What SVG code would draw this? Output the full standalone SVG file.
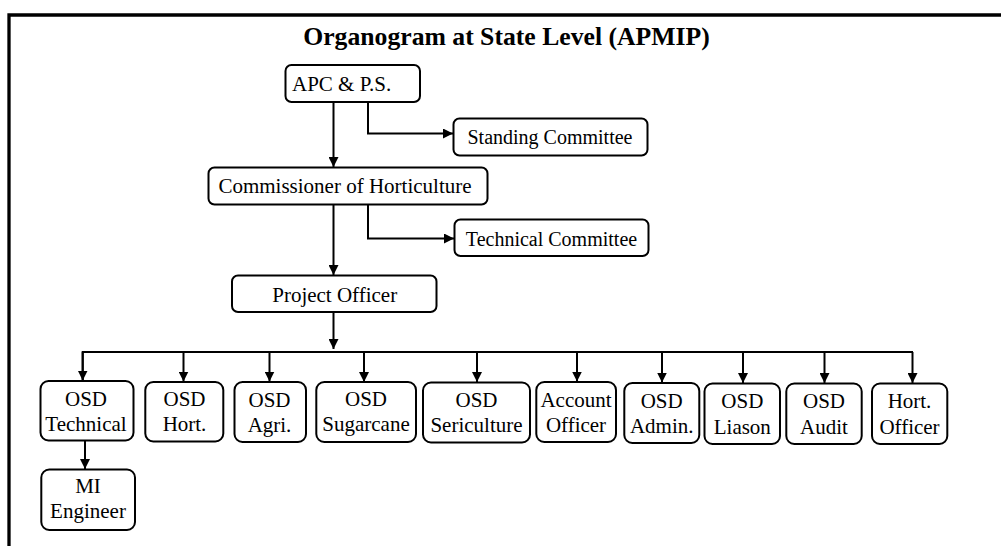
<svg xmlns="http://www.w3.org/2000/svg" width="1001" height="546" viewBox="0 0 1001 546">
<defs>
<style>
.box{fill:#fff;stroke:#000;stroke-width:2}
.t{font-family:'Liberation Serif','Times New Roman',Times,'DejaVu Serif',serif;font-size:21px;fill:#000;text-anchor:middle}
.c{font-size:20px}
.ln{fill:none;stroke:#000;stroke-width:2}
.title{font-family:'Liberation Serif','Times New Roman',Times,'DejaVu Serif',serif;font-size:25.7px;font-weight:bold;fill:#000;text-anchor:middle}
</style>
<marker id="ah" markerUnits="userSpaceOnUse" markerWidth="10" markerHeight="10" refX="10" refY="5" orient="auto">
<path d="M0,0 L10,5 L0,10 z" fill="#000"/>
</marker>
</defs>
<rect width="1001" height="546" fill="#fff"/>
<path d="M9,546 V15 H1001" fill="none" stroke="#000" stroke-width="3.3"/>
<text class="title" x="506.5" y="45">Organogram at State Level (APMIP)</text>

<g id="connectors">
<path class="ln" d="M333.5,102 V167" marker-end="url(#ah)"/>
<path class="ln" d="M368,102 V133.5 H453" marker-end="url(#ah)"/>
<path class="ln" d="M333.5,204.5 V275" marker-end="url(#ah)"/>
<path class="ln" d="M368,204.5 V238.5 H454" marker-end="url(#ah)"/>
<path class="ln" d="M333.5,312 V349" marker-end="url(#ah)"/>
<path class="ln" d="M82.7,380 V352 H913"/>
<path class="ln" d="M82.7,352 V380.5" marker-end="url(#ah)"/>
<path class="ln" d="M183.5,352 V381.5" marker-end="url(#ah)"/>
<path class="ln" d="M269.5,352 V381.5" marker-end="url(#ah)"/>
<path class="ln" d="M364,352 V382" marker-end="url(#ah)"/>
<path class="ln" d="M477,352 V382" marker-end="url(#ah)"/>
<path class="ln" d="M577,352 V381.5" marker-end="url(#ah)"/>
<path class="ln" d="M662,352 V382.5" marker-end="url(#ah)"/>
<path class="ln" d="M743,352 V383" marker-end="url(#ah)"/>
<path class="ln" d="M824.5,352 V383" marker-end="url(#ah)"/>
<path class="ln" d="M912.5,352 V383" marker-end="url(#ah)"/>
<path class="ln" d="M85,441 V469" marker-end="url(#ah)"/>
</g>

<g id="apc"><rect class="box" x="285.5" y="65" width="134.5" height="37" rx="6"/><text class="t" x="292" y="90.7" style="text-anchor:start">APC &amp; P.S.</text></g>
<g id="standing"><rect class="box" x="453.5" y="118.5" width="194" height="37" rx="6"/><text class="t c" x="550" y="144.3">Standing Committee</text></g>
<g id="commissioner"><rect class="box" x="208.5" y="167.5" width="279" height="37" rx="6"/><text class="t" x="345" y="193.3">Commissioner of Horticulture</text></g>
<g id="technical"><rect class="box" x="454.5" y="219.5" width="194" height="36.5" rx="6"/><text class="t c" x="551.5" y="246">Technical Committee</text></g>
<g id="project"><rect class="box" x="232" y="275.5" width="204.5" height="36.5" rx="6"/><text class="t" x="334.7" y="301.7">Project Officer</text></g>

<g id="osd-technical"><rect class="box" x="40.5" y="381" width="93" height="59.5" rx="8"/><text class="t" x="86" y="405.5">OSD</text><text class="t" x="86" y="430.5">Technical</text></g>
<g id="osd-hort"><rect class="box" x="145.3" y="382" width="78" height="59.5" rx="8"/><text class="t" x="184.5" y="406">OSD</text><text class="t" x="184.5" y="431">Hort.</text></g>
<g id="osd-agri"><rect class="box" x="234.5" y="382" width="71.5" height="60" rx="8"/><text class="t" x="269.5" y="406.5">OSD</text><text class="t" x="269.5" y="431.5">Agri.</text></g>
<g id="osd-sugarcane"><rect class="box" x="316.3" y="382" width="99.7" height="60" rx="8"/><text class="t" x="366" y="405.5">OSD</text><text class="t" x="366" y="430.5">Sugarcane</text></g>
<g id="osd-sericulture"><rect class="box" x="423" y="382.5" width="107" height="60" rx="8"/><text class="t" x="476.5" y="406.5">OSD</text><text class="t" x="476.5" y="431.5">Sericulture</text></g>
<g id="account-officer"><rect class="box" x="536.3" y="382" width="79.7" height="60" rx="8"/><text class="t" x="576" y="406.5">Account</text><text class="t" x="576" y="431.5">Officer</text></g>
<g id="osd-admin"><rect class="box" x="624.3" y="383" width="75" height="60" rx="8"/><text class="t" x="661.7" y="407.5">OSD</text><text class="t" x="661.7" y="432.5">Admin.</text></g>
<g id="osd-liason"><rect class="box" x="704.5" y="383.5" width="75.5" height="60.5" rx="8"/><text class="t" x="742.3" y="408">OSD</text><text class="t" x="742.3" y="434">Liason</text></g>
<g id="osd-audit"><rect class="box" x="786.3" y="383.5" width="75.4" height="60.5" rx="8"/><text class="t" x="824" y="408">OSD</text><text class="t" x="824" y="433.5">Audit</text></g>
<g id="hort-officer"><rect class="box" x="872" y="383.5" width="75.3" height="60.5" rx="8"/><text class="t" x="909.5" y="408">Hort.</text><text class="t" x="909.5" y="433.5">Officer</text></g>
<g id="mi-engineer"><rect class="box" x="41.3" y="469.5" width="93.7" height="60.5" rx="8"/><text class="t" x="88" y="493.3">MI</text><text class="t" x="88" y="518.3">Engineer</text></g>
</svg>
